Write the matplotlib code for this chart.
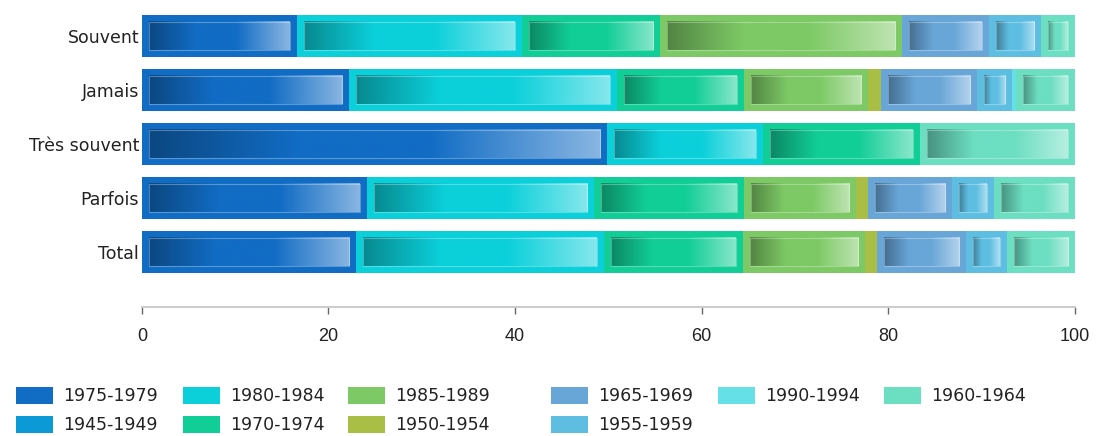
import matplotlib
matplotlib.use('Agg')
import matplotlib.pyplot as plt
import numpy as np
from matplotlib.colors import to_rgb
from matplotlib.patches import Rectangle

# categories (top to bottom)
categories = ['Souvent', 'Jamais', 'Très souvent', 'Parfois', 'Total']

# series in stacking order (left to right), percentages per category
series_names = ['1975-1979', '1980-1984', '1970-1974', '1985-1989', '1950-1954',
                '1965-1969', '1955-1959', '1990-1994', '1960-1964', '1945-1949']
s1975 = [16.6, 22.2, 49.9, 24.1, 23.0]
s1980 = [24.1, 28.7, 16.7, 24.4, 26.5]
s1970 = [14.8, 13.6, 16.8, 16.0, 14.9]
s1985 = [26.0, 13.4, 0.0, 12.1, 13.1]
s1950 = [0.0, 1.3, 0.0, 1.2, 1.3]
s1965 = [9.3, 10.3, 0.0, 9.1, 9.6]
s1955 = [5.6, 3.8, 0.0, 4.5, 4.3]
s1990 = [0.0, 0.4, 0.0, 0.0, 0.0]
s1960 = [3.6, 6.3, 16.6, 8.6, 7.3]
s1945 = [0.0, 0.0, 0.0, 0.0, 0.0]
series_values = [s1975, s1980, s1970, s1985, s1950, s1965, s1955, s1990, s1960, s1945]

colors = {
    '1975-1979': '#116CC4', '1980-1984': '#0BD0DA', '1970-1974': '#11CE96',
    '1985-1989': '#7DC965', '1950-1954': '#A8BE44', '1965-1969': '#68A6D8',
    '1955-1959': '#5EBEE2', '1990-1994': '#64E0E6', '1960-1964': '#6CDEC2',
    '1945-1949': '#0C9AD6',
}

# legend columns as shown (top entry, bottom entry)
legend_cols = [['1975-1979', '1945-1949'], ['1980-1984', '1970-1974'],
               ['1985-1989', '1950-1954'], ['1965-1969', '1955-1959'],
               ['1990-1994'], ['1960-1964']]
legend_col_x = [16, 183, 348, 551, 718, 884]   # left edge of each column, px

plt.rcParams['font.family'] = ['DejaVu Sans']


def gradient_image(color, n=200):
    base = np.array(to_rgb(color))
    dark = base * 0.66
    light = base + (1 - base) * 0.5
    t = np.linspace(0, 1, n)
    img = np.zeros((1, n, 3))
    for i, v in enumerate(t):
        if v < 0.33:
            f = v / 0.33
            img[0, i] = dark * (1 - f) + base * f
        elif v > 0.62:
            f = (v - 0.62) / 0.38
            img[0, i] = base * (1 - f) + light * f
        else:
            img[0, i] = base
    return img


W, H = 1098, 436
fig = plt.figure(figsize=(W / 100, H / 100), dpi=100)
ax = fig.add_axes([0.1293, 0.296, 0.8494, 0.683])

y = np.arange(len(categories))[::-1]
bar_h = 0.78
left = np.zeros(len(categories))
px_x = 0.8494 * W / 100.0   # pixels per data unit (x)
px_y = 54.0                 # pixels per data unit (y)
inset_x = 7 / px_x
inset_y = 7 / px_y

for name, vals in zip(series_names, series_values):
    vals = np.array(vals)
    bars = ax.barh(y, vals, left=left, height=bar_h, color=colors[name],
                   edgecolor='none', zorder=2, label=name)
    img = gradient_image(colors[name])
    for rect in bars:
        x0, y0, w, h = rect.get_x(), rect.get_y(), rect.get_width(), rect.get_height()
        if w <= 2 * inset_x + 0.2:
            continue
        ext = [x0 + inset_x, x0 + w - inset_x, y0 + inset_y, y0 + h - inset_y]
        ax.imshow(img, extent=ext, aspect='auto', zorder=3, interpolation='bilinear')
        ax.add_patch(Rectangle((ext[0], ext[2]), ext[1] - ext[0], ext[3] - ext[2],
                               fill=False, edgecolor='white', alpha=0.3, lw=0.8, zorder=4))
    left += vals

ax.set_xlim(0, 100)
ax.set_ylim(-1.02, 4.5)
ax.set_yticks(y)
ax.set_yticklabels(categories, fontsize=12.5, color='#222222')
ax.tick_params(axis='y', length=0, pad=2)
ax.set_xticks([0, 20, 40, 60, 80, 100])
ax.tick_params(axis='x', length=5, width=1, color='#666666', labelsize=13,
               labelcolor='#222222', pad=10)
for lab in ax.get_xticklabels():
    lab.set_family('Liberation Sans')
for side in ['top', 'right', 'left']:
    ax.spines[side].set_visible(False)
ax.spines['bottom'].set_color('#cccccc')
ax.spines['bottom'].set_linewidth(1.5)

# legend, one small legend per column so the columns sit where they do in the picture
for names, xpx in zip(legend_cols, legend_col_x):
    hs = [Rectangle((0, 0), 1, 1, facecolor=colors[n], edgecolor='none') for n in names]
    leg = fig.legend(hs, names, loc='upper left', bbox_to_anchor=(xpx / W, (H - 387) / H),
                     frameon=False, fontsize=12.5, borderpad=0, borderaxespad=0,
                     handlelength=2.13, handleheight=1.1, handletextpad=0.58,
                     labelspacing=0.62, labelcolor='#222222')

fig.savefig('out.png', dpi=100)
